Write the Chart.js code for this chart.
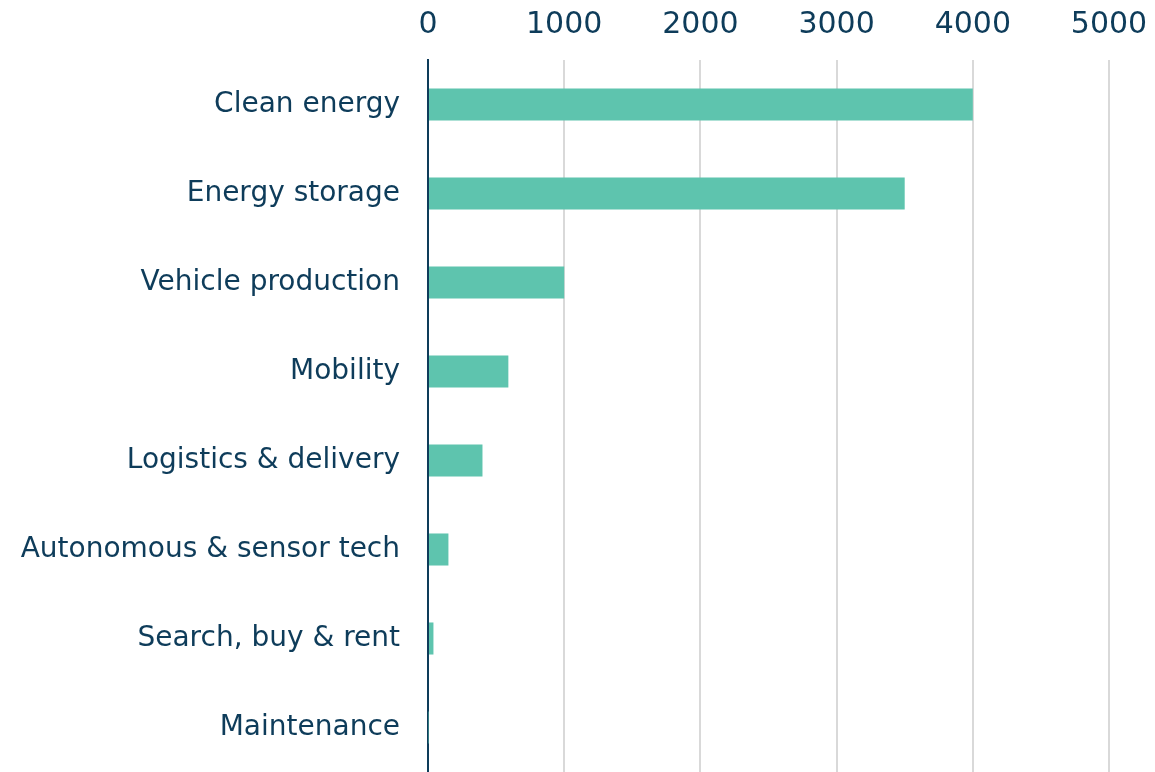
<!DOCTYPE html>
<html>
<head>
<meta charset="utf-8">
<script src="https://cdn.jsdelivr.net/npm/chart.js@4/dist/chart.umd.min.js"></script>
<style>
  html, body { margin: 0; padding: 0; background: #ffffff; }
  #wrap { width: 1155px; height: 772px; position: relative; }
</style>
</head>
<body>
<div id="wrap"><canvas id="c" width="1155" height="772"></canvas></div>
<script>
const categories = ["Clean energy", "Energy storage", "Vehicle production", "Mobility", "Logistics & delivery", "Autonomous & sensor tech", "Search, buy & rent", "Maintenance"];
const values = [4000, 3500, 1000, 590, 400, 150, 40, 4];
const xTicks = [0, 1000, 2000, 3000, 4000, 5000];

const NAVY = "#0e3c5a";
const TEAL = "#5ec4ae";
const GRID = "#d9d9d9";
const CLEAR = "rgba(0,0,0,0)";

new Chart(document.getElementById("c"), {
  type: "bar",
  data: {
    labels: categories,
    datasets: [{
      data: values,
      backgroundColor: TEAL,
      borderWidth: 0,
      barPercentage: 0.9,
      categoryPercentage: 0.4
    }]
  },
  options: {
    indexAxis: "y",
    responsive: false,
    animation: false,
    layout: { padding: { top: 0, right: 46, bottom: 0, left: 0 } },
    plugins: { legend: { display: false }, tooltip: { enabled: false } },
    scales: {
      x: {
        position: "top",
        min: 0,
        max: 5000,
        afterBuildTicks: (s) => { s.ticks = xTicks.map(v => ({ value: v })); },
        afterFit: (s) => { s.height = 60; },
        border: { display: false },
        grid: {
          drawTicks: true,
          tickLength: 17,
          tickColor: CLEAR,
          lineWidth: 2,
          color: (ctx) => (ctx.tick && ctx.tick.value === 0) ? CLEAR : GRID
        },
        ticks: {
          color: NAVY,
          padding: 0,
          font: { family: "DejaVu Sans", size: 30 },
          maxRotation: 0,
          callback: (v) => String(v)
        }
      },
      y: {
        z: 1,
        afterFit: (s) => { s.width = 428; s.paddingTop = 0; s.paddingBottom = 0; },
        border: { display: true, color: NAVY, width: 2 },
        grid: { display: true, drawOnChartArea: false, drawTicks: true, tickLength: 28, tickColor: CLEAR, color: CLEAR },
        ticks: {
          color: NAVY,
          padding: 0,
          font: { family: "DejaVu Sans", size: 28 }
        }
      }
    }
  }
});
</script>
</body>
</html>
